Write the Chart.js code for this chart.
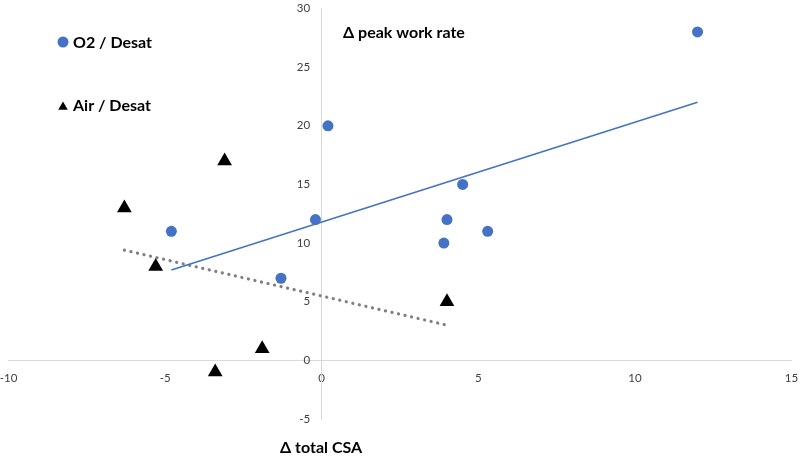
<!DOCTYPE html>
<html>
<head>
<meta charset="utf-8">
<script src="https://cdn.jsdelivr.net/npm/chart.js@4.4.0/dist/chart.umd.min.js"></script>
<style>
  html, body { margin: 0; padding: 0; background: #fff; }
  #wrap { width: 800px; height: 457px; position: relative; }
</style>
</head>
<body>
<div id="wrap"><canvas id="mycanvas"></canvas></div>
<script>
// data
const o2X = [0.2, 12, 4.5, 4, 3.9, 5.3, -0.2, -4.8, -1.3];
const o2Y = [20, 28, 15, 12, 10, 11, 12, 11, 7];
const airX = [-3.1, -6.3, -5.3, -1.9, -3.4, 4];
const airY = [17, 13, 8, 1, -1, 5];
// trendline end points (as drawn)
const o2TrendX = [-4.8, 12];
const o2TrendY = [7.7, 22];
const airTrendX = [-6.3, 4];
const airTrendY = [9.4, 3.0];
const xTicks = [-10, -5, 0, 5, 10, 15];
const yTicks = [-5, 0, 5, 10, 15, 20, 25, 30];

const BLUE = '#4472C4';
const FONT = 'Lato, "Open Sans", sans-serif';

function pts(xs, ys) {
  return xs.map((x, i) => ({ x: x, y: ys[i] }));
}

// legend + axis titles, drawn as text in the free corners
const labelsPlugin = {
  id: 'labels',
  afterDraw(chart) {
    const ctx = chart.ctx;
    const ds = chart.data.datasets;
    ctx.save();
    ctx.font = 'bold 16px ' + FONT;
    ctx.textBaseline = 'middle';
    ctx.textAlign = 'left';
    // legend
    ctx.fillStyle = BLUE;
    ctx.beginPath(); ctx.arc(63, 42, 5.5, 0, Math.PI * 2); ctx.fill();
    ctx.fillStyle = '#000';
    ctx.fillText(ds[0].label, 73, 43);
    Chart.helpers.drawPoint(ctx, { pointStyle: 'triangle', radius: 5.5, borderWidth: 0 }, 63, 107);
    ctx.fillText(ds[1].label, 73, 106);
    // axis titles
    ctx.fillText('\u0394 peak work rate', 343, 33);
    ctx.fillText('\u0394 total CSA', 280, 448);
    ctx.restore();
  }
};

const noPadY = s => { s.width = 0; s.paddingTop = 0; s.paddingBottom = 0; };

const ctx = document.getElementById('mycanvas').getContext('2d');
new Chart(ctx, {
  type: 'scatter',
  data: {
    datasets: [
      {
        label: 'O2 / Desat',
        data: pts(o2X, o2Y),
        backgroundColor: BLUE,
        borderColor: BLUE,
        pointRadius: 5.5,
        pointHoverRadius: 5.5,
        borderWidth: 0,
        order: 1
      },
      {
        label: 'Air / Desat',
        data: pts(airX, airY),
        pointStyle: 'triangle',
        backgroundColor: '#000',
        borderColor: '#000',
        pointRadius: 8.5,
        pointHoverRadius: 8.5,
        borderWidth: 0,
        order: 1
      },
      {
        label: 'O2 trend',
        data: pts(o2TrendX, o2TrendY),
        showLine: true,
        borderColor: BLUE,
        borderWidth: 1.6,
        pointRadius: 0,
        order: 2
      },
      {
        label: 'Air trend',
        data: pts(airTrendX, airTrendY),
        showLine: true,
        borderColor: '#808080',
        borderWidth: 3.2,
        borderDash: [0.1, 6.6],
        borderCapStyle: 'round',
        pointRadius: 0,
        order: 2
      }
    ]
  },
  options: {
    responsive: true,
    maintainAspectRatio: false,
    animation: false,
    layout: { padding: { left: 8, right: 6, top: 4, bottom: 38 } },
    plugins: {
      legend: { display: false },
      tooltip: { enabled: false }
    },
    scales: {
      x: {
        type: 'linear',
        position: { y: 0 },
        min: -10, max: 15,
        afterFit: s => { s.height = 0; s.paddingLeft = 0; s.paddingRight = 0; s.paddingTop = 0; s.paddingBottom = 0; },
        afterBuildTicks: s => { s.ticks = xTicks.map(v => ({ value: v })); },
        grid: { display: false, drawTicks: false },
        border: { display: true, color: '#d9d9d9', width: 1 },
        ticks: { color: '#404040', font: { family: FONT, size: 11.5 }, padding: 11, maxRotation: 0 }
      },
      y: {
        type: 'linear',
        position: { x: 0 },
        min: -5, max: 30,
        afterFit: noPadY,
        afterUpdate: noPadY,
        afterBuildTicks: s => { s.ticks = yTicks.map(v => ({ value: v })); },
        grid: { display: false, drawTicks: false },
        border: { display: true, color: '#d9d9d9', width: 1 },
        ticks: {
          color: '#404040', font: { family: FONT, size: 11.5 },
          // trailing spaces keep the labels clear of the axis line
          callback: v => v + '\u2002\u2002'
        }
      }
    }
  },
  plugins: [labelsPlugin]
});
</script>
</body>
</html>
